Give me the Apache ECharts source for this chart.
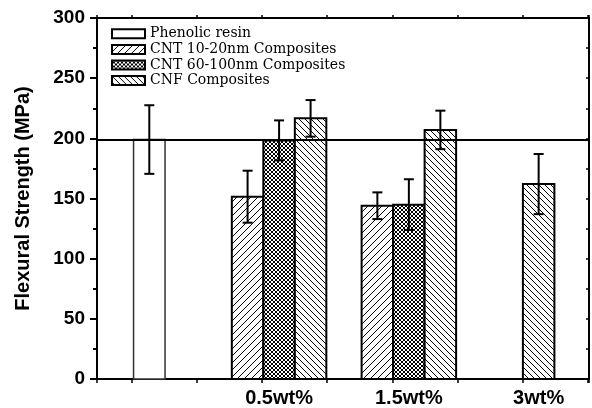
<!DOCTYPE html>
<html>
<head>
<meta charset="utf-8">
<script src="https://cdn.jsdelivr.net/npm/echarts@6.0.0/dist/echarts.min.js"></script>
<style>
    html, body { margin: 0; padding: 0; background: #fff; }
    #main { width: 592px; height: 408px; }
</style>
</head>
<body>
<div id="main"></div>
<script>
var categories = ['', '0.5wt%', '1.5wt%', '3wt%'];
var seriesNames = ['Phenolic resin', 'CNT 10-20nm Composites', 'CNT 60-100nm Composites', 'CNF Composites'];

var phenolic = [199, null, null, null];
var phenolicErr = [28.5, null, null, null];
var cnt1020 = [null, 151.5, 144, null];
var cnt1020Err = [null, 21.6, 11.1, null];
var cnt60100 = [null, 198.3, 144.9, null];
var cnt60100Err = [null, 16.6, 21.1, null];
var cnf = [null, 216.6, 207, 162];
var cnfErr = [null, 15.2, 16, 25];

var refLine = 199;
var yTicks = { min: 0, max: 300, interval: 50 };

var allValues = [phenolic, cnt1020, cnt60100, cnf];
var allErrors = [phenolicErr, cnt1020Err, cnt60100Err, cnfErr];

var BAR_W = 31.5;
var FONT = 'Liberation Sans, Arial, sans-serif';

// hatch fills drawn on a small tile
function hatch(size, dirs, bg) {
    var c = document.createElement('canvas');
    c.width = size;
    c.height = size;
    var ctx = c.getContext('2d');
    ctx.fillStyle = bg || '#fff';
    ctx.fillRect(0, 0, size, size);
    ctx.strokeStyle = '#000';
    ctx.lineWidth = 1;
    dirs.forEach(function (d) {
        ctx.beginPath();
        for (var k = -1; k <= 1; k++) {
            if (d > 0) {
                ctx.moveTo(k * size, size);
                ctx.lineTo(k * size + size, 0);
            } else {
                ctx.moveTo(k * size, 0);
                ctx.lineTo(k * size + size, size);
            }
        }
        ctx.stroke();
    });
    return { image: c, repeat: 'repeat' };
}

var fills = [
    '#fff',
    hatch(7, [1]),
    hatch(4, [1, -1]),
    hatch(6, [-1])
];

// position of a bar inside its group: only series that have a value are counted
function slotOffset(si, ci) {
    var present = [];
    for (var s = 0; s < allValues.length; s++) {
        if (allValues[s][ci] != null) present.push(s);
    }
    return present.indexOf(si) - (present.length - 1) / 2;
}

function makeSeries(si) {
    var data = [];
    allValues[si].forEach(function (v, ci) {
        if (v != null) data.push([ci, v, allErrors[si][ci]]);
    });
    var s = {
        name: seriesNames[si],
        type: 'custom',
        xAxisIndex: 0,
        yAxisIndex: 0,
        encode: { x: 0, y: 1 },
        itemStyle: { color: fills[si], borderColor: '#000', borderWidth: 2 },
        data: data,
        renderItem: function (params, api) {
            var ci = api.value(0), v = api.value(1), e = api.value(2);
            var base = api.coord([ci, 0]);
            var top = api.coord([ci, v]);
            var cx = base[0] + slotOffset(si, ci) * BAR_W;
            var hi = api.coord([ci, v + e])[1];
            var lo = api.coord([ci, v - e])[1];
            var line = { stroke: '#000', lineWidth: 2 };
            return {
                type: 'group',
                children: [
                    {
                        type: 'rect',
                        shape: { x: cx - BAR_W / 2, y: top[1], width: BAR_W, height: base[1] - top[1] },
                        style: { fill: fills[si], stroke: si === 0 ? '#333' : '#000', lineWidth: si === 0 ? 1.5 : 2 }
                    },
                    { type: 'line', shape: { x1: cx, y1: hi, x2: cx, y2: lo }, style: line },
                    { type: 'line', shape: { x1: cx - 5, y1: hi, x2: cx + 5, y2: hi }, style: line },
                    { type: 'line', shape: { x1: cx - 5, y1: lo, x2: cx + 5, y2: lo }, style: line }
                ]
            };
        }
    };
    if (si === 0) {
        s.markLine = {
            silent: true,
            symbol: 'none',
            label: { show: false },
            lineStyle: { color: '#000', width: 2, type: 'solid' },
            data: [{ yAxis: refLine }]
        };
    }
    return s;
}

var myChart = echarts.init(document.getElementById('main'));

var frameAxis = {
    type: 'value',
    min: -0.53,
    max: 7.015,
    splitNumber: 8,
    axisLine: { onZero: false, lineStyle: { color: '#000', width: 2 } },
    axisLabel: { show: false },
    splitLine: { show: false }
};

var option = {
    animation: false,
    grid: { left: 97, right: 1, top: 18, bottom: 29 },
    legend: {
        orient: 'vertical',
        left: 111,
        top: 26,
        padding: 0,
        itemGap: 0,
        itemWidth: 33,
        itemHeight: 9,
        icon: 'rect',
        data: seriesNames,
        itemStyle: { borderColor: '#000', borderWidth: 2 },
        textStyle: { fontFamily: 'DejaVu Serif', fontSize: 14, color: '#000', lineHeight: 15.6 }
    },
    xAxis: [
        {
            type: 'value',
            position: 'bottom',
            min: -0.403,
            max: 3.388,
            splitNumber: 4,
            axisLine: { show: false, onZero: false },
            axisTick: { show: false },
            splitLine: { show: false },
            axisLabel: {
                margin: 9,
                color: '#000',
                fontFamily: FONT,
                fontSize: 20,
                fontWeight: 'bold',
                formatter: function (v) {
                    var r = Math.round(v);
                    return Math.abs(v - r) < 1e-6 ? (categories[r] || '') : '';
                }
            }
        },
        echarts.util.merge({ position: 'bottom', axisTick: { length: 4, lineStyle: { color: '#000', width: 1.5 } } }, frameAxis),
        echarts.util.merge({ position: 'top', axisTick: { length: 3, lineStyle: { color: '#000', width: 1.5 } } }, frameAxis)
    ],
    yAxis: [
        {
            type: 'value',
            position: 'left',
            min: yTicks.min,
            max: yTicks.max,
            interval: yTicks.interval,
            name: 'Flexural Strength (MPa)',
            nameLocation: 'middle',
            nameGap: 64,
            nameTextStyle: { color: '#000', fontFamily: FONT, fontSize: 20, fontWeight: 'bold' },
            axisLine: { show: true, onZero: false, lineStyle: { color: '#000', width: 2 } },
            axisTick: { show: true, length: 7, lineStyle: { color: '#000', width: 2 } },
            minorTick: { show: true, splitNumber: 2, length: 4, lineStyle: { color: '#000', width: 2 } },
            splitLine: { show: false },
            axisLabel: { margin: 12, color: '#000', fontFamily: FONT, fontSize: 19, fontWeight: 'bold' }
        },
        {
            type: 'value',
            position: 'right',
            min: yTicks.min,
            max: yTicks.max,
            interval: yTicks.interval / 2,
            axisLine: { show: true, onZero: false, lineStyle: { color: '#000', width: 2 } },
            axisTick: { show: true, inside: true, length: 3, lineStyle: { color: '#000', width: 1.5 } },
            splitLine: { show: false },
            axisLabel: { show: false }
        }
    ],
    series: [makeSeries(0), makeSeries(1), makeSeries(2), makeSeries(3)]
};

myChart.setOption(option);
</script>
</body>
</html>
